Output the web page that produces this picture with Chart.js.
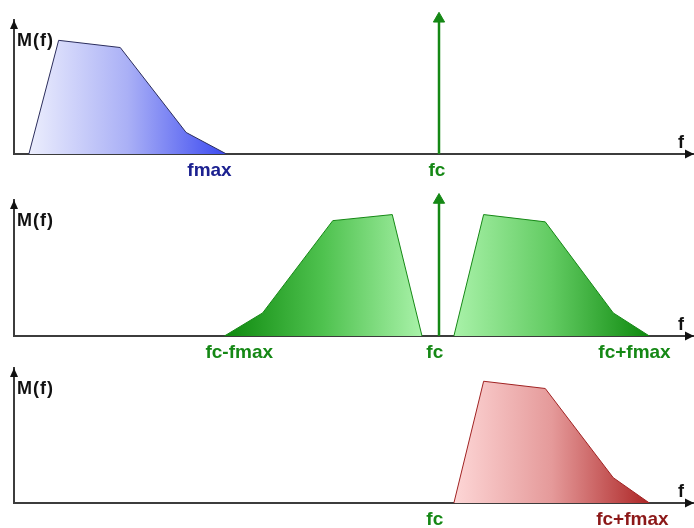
<!DOCTYPE html>
<html>
<head>
<meta charset="utf-8">
<script src="https://cdn.jsdelivr.net/npm/chart.js@4.4.1/dist/chart.umd.min.js"></script>
<style>
  html, body { margin: 0; padding: 0; background: #fff; }
  .wrap { position: relative; width: 694px; height: 528px; }
  .wrap canvas { position: absolute; left: 0; top: 0; }
</style>
</head>
<body>
<div class="wrap">
  <canvas id="c1" width="694" height="528"></canvas>
  <canvas id="c2" width="694" height="528"></canvas>
  <canvas id="c3" width="694" height="528"></canvas>
</div>
<script>
// frequency in units of fmax, magnitude M(f)
// baseband (message) spectrum
const bandFreq = [0.07, 0.21, 0.50, 0.81, 1.0];
const bandMag = [0, 0.95, 0.89, 0.18, 0];
// carrier
const carrierFreq = [2.0, 2.0];
const carrierMagTop = [0, 1.13];
const carrierMagDsb = [0, 1.12];
// double sideband
const lsbFreq = [0.99, 1.17, 1.50, 1.78, 1.92];
const lsbMag = [0, 0.19, 0.95, 1.0, 0];
const usbFreq = [2.07, 2.21, 2.50, 2.82, 2.99];
const usbMag = [0, 1.0, 0.94, 0.19, 0];
// single sideband
const ssbFreq = [2.07, 2.21, 2.50, 2.82, 2.99];
const ssbMag = [0, 1.01, 0.95, 0.21, 0];

// tick labels
const topTicks = ['fmax', 'fc'];
const topTickPos = [0.92, 1.99];
const dsbTicks = ['fc-fmax', 'fc', 'fc+fmax'];
const dsbTickPos = [1.06, 1.98, 2.92];
const ssbTicks = ['fc', 'fc+fmax'];
const ssbTickPos = [1.98, 2.91];

const GREEN = '#158815';
const NAVY = '#1c2190';
const DARKRED = '#8c1818';
const AXIS = '#3c3c3c';
const FONT = "'Liberation Sans', Arial, sans-serif";

const toPoints = (xs, ys) => xs.map((x, i) => ({ x: x, y: ys[i] }));

// 横方向のグラデーション
function hGradient(stops) {
  return (context) => {
    const chart = context.chart;
    if (!chart.chartArea) return stops[0];
    const pts = chart.data.datasets[context.datasetIndex].data;
    const x0 = chart.scales.x.getPixelForValue(pts[0].x);
    const x1 = chart.scales.x.getPixelForValue(pts[pts.length - 1].x);
    const g = chart.ctx.createLinearGradient(x0, 0, x1, 0);
    stops.forEach((c, i) => g.addColorStop(i / (stops.length - 1), c));
    return g;
  };
}

function band(xs, ys, stops, outline) {
  return {
    data: toPoints(xs, ys),
    fill: 'origin',
    backgroundColor: hGradient(stops),
    borderColor: outline,
    borderWidth: 1,
    pointRadius: 0,
    tension: 0,
    clip: false
  };
}

function carrier(ys) {
  return {
    data: toPoints(carrierFreq, ys),
    borderColor: GREEN,
    borderWidth: 2.5,
    pointStyle: 'triangle',
    pointRadius: [0, 6.5],
    pointBackgroundColor: GREEN,
    pointBorderColor: GREEN,
    pointBorderWidth: 1,
    fill: false,
    clip: false
  };
}

// 矢印と軸ラベル
const axisDecor = {
  id: 'axisDecor',
  afterDraw(chart) {
    const { ctx, chartArea: a } = chart;
    ctx.save();
    ctx.fillStyle = '#111';
    // x arrow
    ctx.beginPath();
    ctx.moveTo(a.right, a.bottom);
    ctx.lineTo(a.right - 9, a.bottom - 4.5);
    ctx.lineTo(a.right - 9, a.bottom + 4.5);
    ctx.closePath();
    ctx.fill();
    // y arrow
    ctx.beginPath();
    ctx.moveTo(a.left, a.top);
    ctx.lineTo(a.left - 4, a.top + 9);
    ctx.lineTo(a.left + 4, a.top + 9);
    ctx.closePath();
    ctx.fill();
    // labels
    ctx.font = 'bold 18px ' + FONT;
    ctx.textBaseline = 'alphabetic';
    ctx.textAlign = 'left';
    ctx.letterSpacing = '1px';
    ctx.fillText('M(f)', a.left + 3, a.top + 26);
    ctx.letterSpacing = '0px';
    ctx.fillText('f', a.right - 16, a.bottom - 6);
    ctx.restore();
  }
};

function makePanel(id, datasets, tickPos, tickLabels, tickColors, top, baseline) {
  const axisH = Math.min(30, 528 - baseline);
  return new Chart(document.getElementById(id), {
    type: 'line',
    data: { datasets: datasets },
    options: {
      responsive: false,
      animation: false,
      events: [],
      layout: {
        autoPadding: false,
        padding: { left: 14, right: 0, top: top, bottom: 528 - baseline - axisH }
      },
      plugins: {
        legend: { display: false },
        tooltip: { enabled: false },
        title: { display: false }
      },
      scales: {
        x: {
          type: 'linear',
          min: 0,
          max: 3.2,
          afterFit: (s) => { s.height = axisH; },
          afterBuildTicks: (s) => { s.ticks = tickPos.map(v => ({ value: v })); },
          grid: { display: false, drawTicks: false },
          border: { display: true, color: AXIS, width: 2 },
          ticks: {
            autoSkip: false,
            maxRotation: 0,
            minRotation: 0,
            padding: 5,
            font: { family: FONT, size: 19, weight: 'bold' },
            color: (c) => tickColors[c.index],
            callback: (v, i) => tickLabels[i]
          }
        },
        y: {
          type: 'linear',
          min: 0,
          max: 1.12,
          afterFit: (s) => { s.width = 0; },
          grid: { display: false, drawTicks: false },
          border: { display: true, color: AXIS, width: 2 },
          ticks: { display: false }
        }
      }
    },
    plugins: [axisDecor]
  });
}

window.addEventListener('DOMContentLoaded', () => {
  makePanel('c1', [
    carrier(carrierMagTop),
    band(bandFreq, bandMag, ['#eceefd', '#aab0f6', '#3c4af0'], '#2b2d5c')
  ], topTickPos, topTicks, [NAVY, GREEN], 20, 154);

  makePanel('c2', [
    carrier(carrierMagDsb),
    band(lsbFreq, lsbMag, ['#0e890e', '#4fc24f', '#a9f2a9'], GREEN),
    band(usbFreq, usbMag, ['#a9f2a9', '#62cb62', '#0e890e'], GREEN)
  ], dsbTickPos, dsbTicks, [GREEN, GREEN, GREEN], 200, 336);

  makePanel('c3', [
    band(ssbFreq, ssbMag, ['#fdd6d6', '#e59a9a', '#ad2626'], '#a02222')
  ], ssbTickPos, ssbTicks, [GREEN, DARKRED], 368, 503);
});
</script>
</body>
</html>
